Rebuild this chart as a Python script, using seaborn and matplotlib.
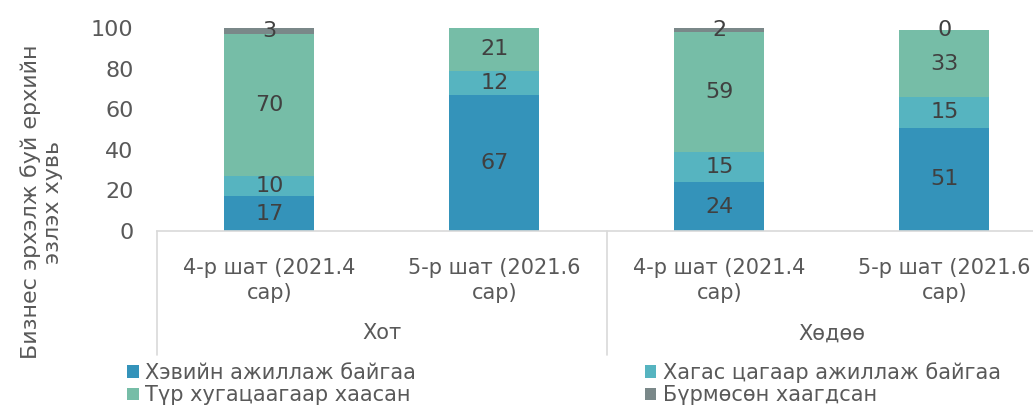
import numpy as np
import pandas as pd
import matplotlib
matplotlib.use("Agg")
import matplotlib.pyplot as plt
import seaborn as sns

# Data
groups = ["Хот", "Хот", "Хөдөө", "Хөдөө"]
stages = ["4-р шат (2021.4\nсар)", "5-р шат (2021.6\nсар)",
          "4-р шат (2021.4\nсар)", "5-р шат (2021.6\nсар)"]
normal = [17, 67, 24, 51]
partial = [10, 12, 15, 15]
temp_closed = [70, 21, 59, 33]
closed = [3, np.nan, 2, 0]

series_names = ["Хэвийн ажиллаж байгаа", "Хагас цагаар ажиллаж байгаа",
                "Түр хугацаагаар хаасан", "Бүрмөсөн хаагдсан"]
colors = ["#3493BA", "#56B4C0", "#76BDA7", "#7A8889"]

keys = [f"{g}|{i}" for i, g in enumerate(groups)]
df = pd.DataFrame({"key": keys, "normal": normal, "partial": partial,
                   "temp_closed": temp_closed, "closed": closed})

sns.set_style("white")
plt.rcParams["font.family"] = ["DejaVu Sans"]
text_color = "#595959"
fs = 15

fig = plt.figure(figsize=(10.33, 4.08), dpi=100)
ax = fig.add_axes([0.152, 0.434, 0.871, 0.497])

bottom = np.zeros(len(df))
handles = []
for col, name, c in zip(["normal", "partial", "temp_closed", "closed"], series_names, colors):
    raw = df[col].to_numpy(dtype=float)
    plot_df = df.assign(val=np.nan_to_num(raw))
    sns.barplot(data=plot_df, x="key", y="val", color=c, bottom=bottom, width=0.4,
                ax=ax, edgecolor="none", saturation=1, legend=False)
    cont = ax.containers[-1]
    labels = ["" if np.isnan(v) else f"{v:.0f}" for v in raw]
    ax.bar_label(cont, labels=labels, label_type="center", fontsize=fs + 1, color="#404040")
    handles.append(cont)
    bottom = bottom + np.nan_to_num(raw)

ax.set_xlim(-0.5, 3.5)
ax.set_ylim(0, 100)
ax.set_yticks([0, 20, 40, 60, 80, 100])
ax.tick_params(axis="y", labelsize=fs + 1, labelcolor=text_color, length=0, pad=17)
ax.set_xticks([])
ax.set_xlabel("")
ax.set_ylabel("")
for s in ["top", "right", "left"]:
    ax.spines[s].set_visible(False)
ax.spines["bottom"].set_color("#D9D9D9")
ax.spines["bottom"].set_linewidth(1.2)

# multi-level category axis
trans = ax.get_xaxis_transform()
for i, st in enumerate(stages):
    ax.text(i, -0.245, st, transform=trans, ha="center", va="center",
            fontsize=fs, color=text_color, linespacing=1.35)
for gx, g in [(0.5, "Хот"), (2.5, "Хөдөө")]:
    ax.text(gx, -0.505, g, transform=trans, ha="center", va="center",
            fontsize=fs, color=text_color)
for sx in [-0.5, 1.5, 3.5]:
    ax.plot([sx, sx], [0, -0.61], transform=trans, color="#D9D9D9",
            lw=1.2, clip_on=False)

fig.text(0.040, 0.505, "Бизнес эрхэлж буй ерхийн\nэзлэх хувь", rotation=90,
         ha="center", va="center", fontsize=fs + 1, color=text_color, linespacing=1.1)

order = [0, 2, 1, 3]
leg = fig.legend([handles[i] for i in order], [series_names[i] for i in order],
                 ncol=2, loc="upper left", bbox_to_anchor=(0.123, 0.113),
                 frameon=False, fontsize=fs, handlelength=0.55, handleheight=0.55,
                 handletextpad=0.3, columnspacing=11.0, labelspacing=0.12,
                 borderaxespad=0, borderpad=0)
for t in leg.get_texts():
    t.set_color(text_color)

fig.savefig("out.png", dpi=100)
